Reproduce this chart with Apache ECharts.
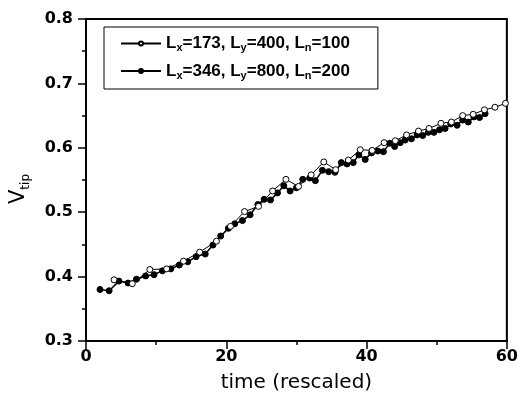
<!DOCTYPE html>
<html><head><meta charset="utf-8">
<script src="https://cdn.jsdelivr.net/npm/echarts@6/dist/echarts.min.js"></script>
<style>html,body{margin:0;padding:0;background:#fff}#c{width:521px;height:400px}</style>
</head><body><div id="c"></div>
<script>
// Series 1: Lx=173, Ly=400, Ln=100 (open circles)
const openX = [4.0, 6.6, 9.1, 11.5, 13.9, 16.2, 18.6, 20.6, 22.6, 24.6, 26.6, 28.5, 30.3, 32.1, 33.9, 35.6, 37.4, 39.1, 40.8, 42.5, 44.1, 45.7, 47.4, 48.9, 50.6, 52.1, 53.7, 55.2, 56.8, 58.3, 59.8];
const openY = [0.395, 0.389, 0.411, 0.412, 0.424, 0.438, 0.455, 0.478, 0.501, 0.509, 0.533, 0.551, 0.540, 0.558, 0.578, 0.566, 0.581, 0.597, 0.596, 0.608, 0.611, 0.620, 0.626, 0.630, 0.638, 0.640, 0.650, 0.652, 0.659, 0.663, 0.669];
// Series 2: Lx=346, Ly=800, Ln=200 (filled circles)
const fillX = [2.0, 3.3, 4.7, 6.0, 7.2, 8.5, 9.7, 10.9, 12.1, 13.3, 14.5, 15.7, 17.0, 18.1, 19.2, 20.3, 21.2, 22.3, 23.4, 24.5, 25.4, 26.3, 27.3, 28.2, 29.1, 30.0, 30.9, 31.9, 32.7, 33.7, 34.6, 35.5, 36.4, 37.2, 38.1, 38.9, 39.8, 40.7, 41.6, 42.4, 43.3, 44.0, 44.8, 45.5, 46.4, 47.2, 48.0, 48.8, 49.6, 50.4, 51.2, 52.0, 52.9, 53.7, 54.5, 55.3, 56.1, 56.9];
const fillY = [0.380, 0.378, 0.393, 0.390, 0.396, 0.401, 0.403, 0.409, 0.412, 0.418, 0.423, 0.431, 0.435, 0.449, 0.463, 0.475, 0.482, 0.487, 0.496, 0.512, 0.520, 0.519, 0.530, 0.541, 0.533, 0.538, 0.551, 0.553, 0.549, 0.565, 0.563, 0.562, 0.577, 0.575, 0.577, 0.589, 0.582, 0.592, 0.595, 0.594, 0.607, 0.602, 0.608, 0.612, 0.614, 0.620, 0.619, 0.624, 0.624, 0.628, 0.630, 0.637, 0.635, 0.643, 0.640, 0.648, 0.647, 0.653];
const xTicks = [0, 20, 40, 60];
const yTicks = [0.3, 0.4, 0.5, 0.6, 0.7, 0.8];

const SANS = 'Liberation Sans, Arial, Helvetica, sans-serif';
const WIDE = 'DejaVu Sans, Verdana, sans-serif';
const zip = (xs, ys) => xs.map((x, i) => [x, ys[i]]);
const chart = echarts.init(document.getElementById('c'));
chart.setOption({
  animation: false,
  backgroundColor: '#fff',
  grid: { left: 86, right: 10, top: 19, bottom: 59, show: true, borderColor: '#000', borderWidth: 2, backgroundColor: 'transparent' },
  legend: {
    orient: 'vertical', left: 104, top: 27,
    padding: [8, 28, 8, 16], itemGap: 9,
    borderColor: '#000', borderWidth: 1, borderRadius: 0,
    itemWidth: 40, itemHeight: 5,
    data: ['s1', 's2'],
    formatter: n => n === 's1'
      ? '{a|L}{s|x}{a|=173, L}{s|y}{a|=400, L}{s|n}{a|=100}'
      : '{a|L}{s|x}{a|=346, L}{s|y}{a|=800, L}{s|n}{a|=200}',
    textStyle: {
      rich: {
        a: { fontFamily: SANS, fontSize: 17, fontWeight: 'bold', color: '#000', lineHeight: 20, verticalAlign: 'middle' },
        s: { fontFamily: SANS, fontSize: 11, fontWeight: 'bold', color: '#000', lineHeight: 20, verticalAlign: 'bottom', padding: [7, 0, 0, 0] }
      }
    }
  },
  xAxis: {
    type: 'value', min: 0, max: 60, interval: 20,
    name: 'time (rescaled)', nameLocation: 'middle', nameGap: 32,
    nameTextStyle: { fontFamily: WIDE, fontSize: 20, color: '#000' },
    axisLine: { onZero: false, lineStyle: { color: '#000', width: 2 } },
    axisTick: { inside: false, length: 8, lineStyle: { color: '#000', width: 1.5 } },
    minorTick: { show: true, splitNumber: 2, length: 4, lineStyle: { color: '#000', width: 1.5 } },
    splitLine: { show: false },
    axisLabel: { fontFamily: WIDE, fontSize: 16, fontWeight: 'bold', color: '#000', margin: 8,
      formatter: v => xTicks.includes(v) ? String(v) : '' }
  },
  yAxis: {
    type: 'value', min: 0.3, max: 0.8, interval: 0.1,
    name: '{v|V}{s|tip}', nameLocation: 'middle', nameGap: 54, nameRotate: 90,
    nameTextStyle: {
      padding: [0, 18, 0, 0],
      rich: {
        v: { fontFamily: WIDE, fontSize: 21, color: '#000', lineHeight: 26, verticalAlign: 'middle' },
        s: { fontFamily: WIDE, fontSize: 12, color: '#000', lineHeight: 26, verticalAlign: 'bottom', padding: [11, 0, 0, 0] }
      }
    },
    axisLine: { onZero: false, lineStyle: { color: '#000', width: 2 } },
    axisTick: { inside: false, length: 8, lineStyle: { color: '#000', width: 1.5 } },
    minorTick: { show: true, splitNumber: 2, length: 4, lineStyle: { color: '#000', width: 1.5 } },
    splitLine: { show: false },
    axisLabel: { fontFamily: WIDE, fontSize: 16, fontWeight: 'bold', color: '#000', margin: 13,
      formatter: v => { const t = yTicks.find(k => Math.abs(k - v) < 1e-9); return t === undefined ? '' : t.toFixed(1); } }
  },
  series: [
    { name: 's1', type: 'line', data: zip(openX, openY), symbol: 'circle', symbolSize: 6,
      itemStyle: { color: '#fff', borderColor: '#000', borderWidth: 1 },
      lineStyle: { color: '#000', width: 1 }, z: 3 },
    { name: 's2', type: 'line', data: zip(fillX, fillY), symbol: 'circle', symbolSize: 6,
      itemStyle: { color: '#000', borderColor: '#000', borderWidth: 1 },
      lineStyle: { color: '#000', width: 1.5 }, z: 2 }
  ]
});
</script></body></html>
